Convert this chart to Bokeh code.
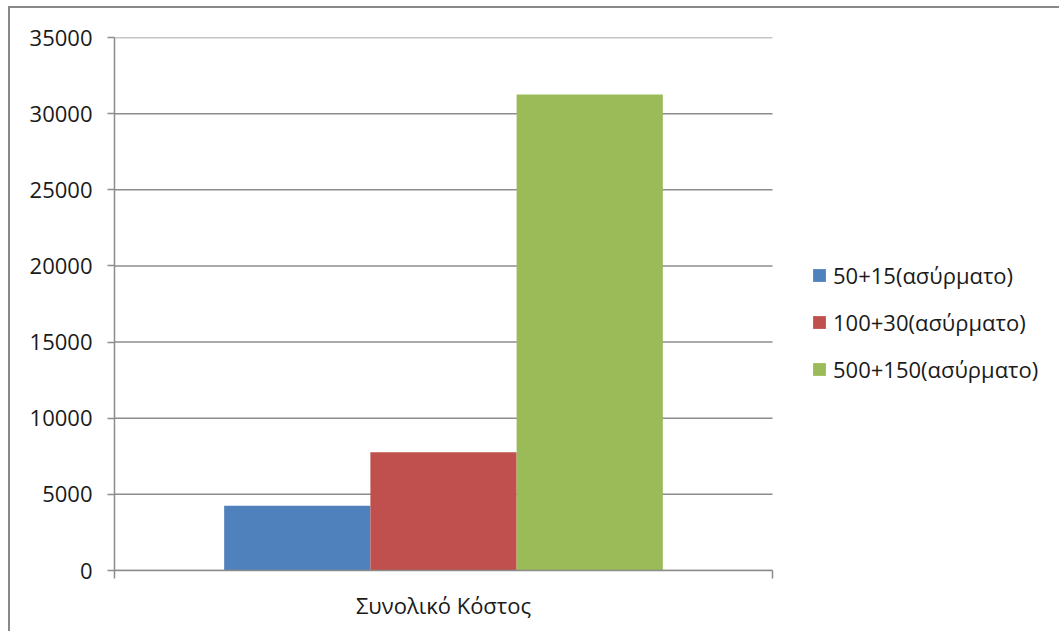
from bokeh.plotting import figure
from bokeh.models import Range1d, FixedTicker, Legend, LegendItem, ColumnDataSource
from bokeh.embed import file_html
from bokeh.resources import INLINE

category = "Συνολικό Κόστος"
series = ["50+15(ασύρματο)", "100+30(ασύρματο)", "500+150(ασύρματο)"]
values = [4260, 7760, 31250]
colors = ["#4F81BD", "#C0504D", "#9BBB59"]
y_ticks = [0, 5000, 10000, 15000, 20000, 25000, 30000, 35000]

FONT = "Open Sans"
FS = "22px"
GRID = "#8c8c8c"

W, H = 1051, 625
LEFT, PLOT_W = 104, 658
# the frame reaches to the right edge so the legend can sit inside it;
# the category band (0..1) covers the plot area only
x_end = (W - LEFT) / PLOT_W

n = len(series)
bar_w = (2.0 / 3.0) / n
xs = [0.5 + (i - (n - 1) / 2.0) * bar_w for i in range(n)]

src = ColumnDataSource(dict(x=xs, top=values, color=colors, label=series))

p = figure(width=W, height=H,
           x_range=Range1d(0, x_end), y_range=Range1d(0, y_ticks[-1]),
           output_backend="svg", toolbar_location=None,
           min_border_left=LEFT, min_border_right=0,
           min_border_top=29, min_border_bottom=63)
p.margin = (6, 0, 0, 8)
p.styles = {"border-left": "2px solid #888888", "border-top": "2px solid #888888"}
p.outline_line_color = None
p.background_fill_color = "white"
p.border_fill_color = "white"

# horizontal gridlines spanning the category band only
p.xgrid.grid_line_color = None
p.ygrid.grid_line_color = None
p.segment(x0=[0] * len(y_ticks), x1=[1] * len(y_ticks), y0=y_ticks, y1=y_ticks,
          line_color=GRID, line_width=1.5)

r = p.vbar(x="x", top="top", width=bar_w, bottom=0, color="color", line_color=None, source=src)

p.yaxis.ticker = FixedTicker(ticks=y_ticks)
p.yaxis.axis_line_color = GRID
p.yaxis.axis_line_width = 1.5
p.yaxis.major_tick_line_color = GRID
p.yaxis.major_tick_line_width = 1.5
p.yaxis.major_tick_out = 7
p.yaxis.major_tick_in = 0
p.yaxis.minor_tick_line_color = None
p.yaxis.major_label_standoff = 15
p.yaxis.major_label_text_font = FONT
p.yaxis.major_label_text_font_size = FS
p.yaxis.major_label_text_color = "#1a1a1a"

p.xaxis.ticker = FixedTicker(ticks=[0.5], minor_ticks=[0, 1])
p.xaxis.bounds = (0, 1)
p.xaxis.major_label_overrides = {0.5: category}
p.xaxis.axis_line_color = GRID
p.xaxis.axis_line_width = 1.5
p.xaxis.major_tick_line_color = None
p.xaxis.major_tick_out = 0
p.xaxis.major_tick_in = 0
p.xaxis.minor_tick_line_color = GRID
p.xaxis.minor_tick_line_width = 1.5
p.xaxis.minor_tick_out = 8
p.xaxis.minor_tick_in = 0
p.xaxis.major_label_standoff = 11
p.xaxis.major_label_text_font = FONT
p.xaxis.major_label_text_font_size = FS
p.xaxis.major_label_text_color = "#1a1a1a"

items = [LegendItem(label=s, renderers=[r], index=i) for i, s in enumerate(series)]
legend = Legend(items=items, location=(697, 186),
                padding=0, margin=0, spacing=17,
                glyph_width=16, glyph_height=16, label_height=30,
                label_standoff=6,
                label_text_font=FONT, label_text_font_size=FS,
                label_text_color="#1a1a1a",
                background_fill_alpha=0, border_line_color=None)
p.add_layout(legend, "center")

open("out.html", "w").write(file_html(p, INLINE))
